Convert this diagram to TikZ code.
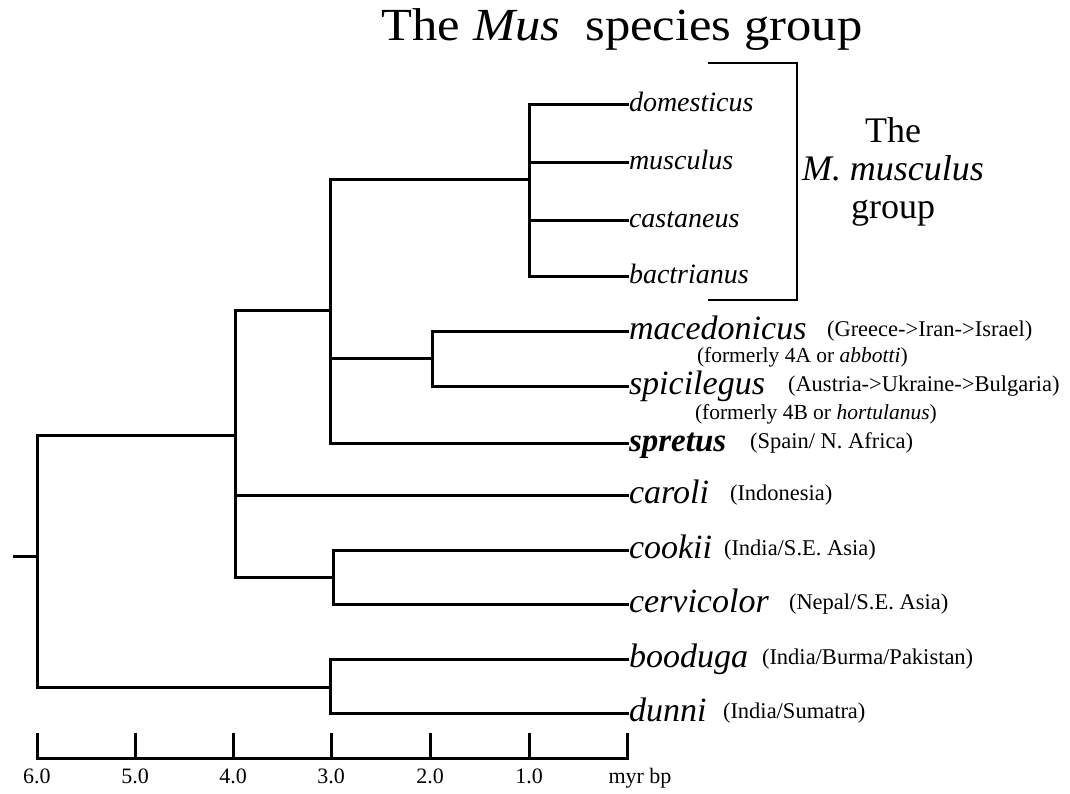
\documentclass[tikz,border=0pt]{standalone}
\usepackage{fontspec}
\setmainfont{Liberation Serif}
\newcommand\fsz[1]{\fontsize{#1}{#1}\selectfont}
\begin{document}
\begin{tikzpicture}[x=1pt,y=-1pt,
  branch/.style={line width=3pt, line join=miter, line cap=butt},
  bracketline/.style={line width=2.3pt, line join=miter},
  leafA/.style={anchor=west, inner sep=0pt, outer sep=0pt, font=\fsz{28}\itshape, text height=20pt, text depth=6pt},
  leafB/.style={anchor=west, inner sep=0pt, outer sep=0pt, font=\fsz{34}\itshape, text height=24pt, text depth=7pt},
  region/.style={anchor=west, inner sep=0pt, outer sep=0pt, font=\fsz{22.5}, text height=16pt, text depth=5pt},
  former/.style={region, font=\fsz{21.5}, text height=14pt, text depth=4pt},
  axislabel/.style={anchor=base, inner sep=0pt, font=\fsz{22}}
]
\useasboundingbox (0,0) rectangle (1070,793);

% title
\node[anchor=base, inner sep=0pt, font=\fsz{46}] (title) at (622,40) {\scalebox{1.1}[1]{The \textit{Mus}\ \ species group}};

% leaves
\node[leafA] (dom) at (629,104) {domesticus};
\node[leafA] (mus) at (629,162) {musculus};
\node[leafA] (cas) at (629,220) {castaneus};
\node[leafA] (bac) at (629,276) {bactrianus};
\node[leafB, text height=20pt, text depth=3pt] (mac) at (629,331) {macedonicus};
\node[leafB, text height=20pt, text depth=3pt] (spi) at (629,386) {spicilegus};
\node[leafB, font=\fsz{33}\bfseries\itshape] (spr) at (629,443) {spretus};
\node[leafB] (car) at (629,495) {caroli};
\node[leafB] (coo) at (629,550) {cookii};
\node[leafB] (cer) at (629,604) {cervicolor};
\node[leafB] (boo) at (629,659) {booduga};
\node[leafB] (dun) at (629,713) {dunni};

% region labels
\node[region] (macR) at (827,331) {(Greece->Iran->Israel)};
\node[former] (macF) at (697,357) {(formerly 4A or \textit{abbotti})};
\node[region] (spiR) at (788,386) {(Austria->Ukraine->Bulgaria)};
\node[former] (spiF) at (695,414) {(formerly 4B or \textit{hortulanus})};
\node[region] (sprR) at (750,443) {(Spain/ N. Africa)};
\node[region] (carR) at (730,495) {(Indonesia)};
\node[region] (cooR) at (724,550) {(India/S.E. Asia)};
\node[region] (cerR) at (789,604) {(Nepal/S.E. Asia)};
\node[region] (booR) at (762,659) {(India/Burma/Pakistan)};
\node[region] (dunR) at (723,713) {(India/Sumatra)};

% internal nodes
\coordinate (nMus) at (529,179);
\coordinate (nMS) at (432,358);
\coordinate (n3) at (330,310);
\coordinate (nCC) at (333,577);
\coordinate (n4) at (235,435);
\coordinate (nBD) at (330,687);
\coordinate (root) at (37,556);
\coordinate (stub) at (13,556);

% tree
\draw[branch] (nMus) |- (dom.west);
\draw[branch] (nMus) |- (mus.west);
\draw[branch] (nMus) |- (cas.west);
\draw[branch] (nMus) |- (bac.west);
\draw[branch] (nMS) |- (mac.west);
\draw[branch] (nMS) |- (spi.west);
\draw[branch] (n3) |- (nMus);
\draw[branch] (n3) |- (nMS);
\draw[branch] (n3) |- (spr.west);
\draw[branch] (nCC) |- (coo.west);
\draw[branch] (nCC) |- (cer.west);
\draw[branch] (n4) |- (n3);
\draw[branch] (n4) |- (car.west);
\draw[branch] (n4) |- (nCC);
\draw[branch] (nBD) |- (boo.west);
\draw[branch] (nBD) |- (dun.west);
\draw[branch] (root) |- (n4);
\draw[branch] (root) |- (nBD);
\draw[branch] (stub) -- (root);

% bracket for M. musculus group
\coordinate (br1) at (708,63);
\coordinate (br2) at (797,63);
\coordinate (br3) at (797,300);
\coordinate (br4) at (708,300);
\draw[bracketline] (br1) -- (br2) -- (br3) -- (br4);
\node[align=center, inner sep=0pt, font=\fontsize{36}{38}\selectfont] (grp) at (893,172) {The\\\textit{M. musculus}\\group};

% axis
\foreach \t/\xx in {6/37,5/135,4/233,3/331,2/430,1/529,0/627}{
  \coordinate (ax\t) at (\xx,758);
  \coordinate (tk\t) at (\xx,733);
  \draw[branch] (ax\t) -- (tk\t);
}
\draw[branch, line cap=rect] (ax6) -- (ax0);
\foreach \t/\xx in {6/37,5/135,4/233,3/331,2/430,1/529}{
  \node[axislabel] (lb\t) at (\xx,783) {\t.0};
}
\node[axislabel] (unit) at (640,783) {myr bp};
\end{tikzpicture}
\end{document}
